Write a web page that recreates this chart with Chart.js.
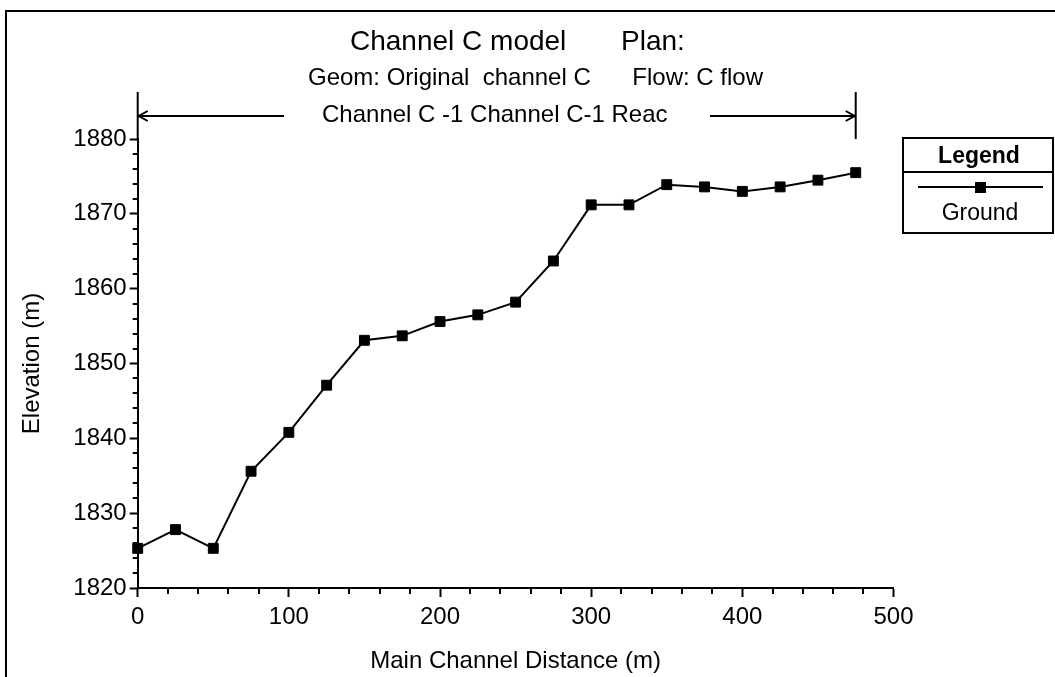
<!DOCTYPE html>
<html>
<head>
<meta charset="utf-8">
<script src="https://cdn.jsdelivr.net/npm/chart.js@4.4.1/dist/chart.umd.min.js"></script>
<style>
  body { margin: 0; background: #fff; }
  #wrap { width: 1055px; height: 677px; position: relative; }
</style>
</head>
<body>
<div id="wrap"><canvas id="profile"></canvas></div>
<script>
// Ground profile along main channel
const distance = [0, 25, 50, 75, 100, 125, 150, 175, 200, 225, 250, 275, 300, 325, 350, 375, 400, 425, 450, 475];
const elevation = [1825.3, 1827.8, 1825.3, 1835.6, 1840.8, 1847.1, 1853.1, 1853.7, 1855.6, 1856.5,
                   1858.2, 1863.7, 1871.2, 1871.2, 1873.9, 1873.6, 1873.0, 1873.6, 1874.5, 1875.5];
const xTicks = [0, 100, 200, 300, 400, 500];
const yTicks = [1820, 1830, 1840, 1850, 1860, 1870, 1880];
const reach = [0, 475];
const seriesName = 'Ground';

const FONT = 'Liberation Sans, Arial, sans-serif';

// minor ticks, reach arrow, titles, legend box, outer frame
const decor = {
    id: 'decor',
    afterDraw(chart) {
        const { ctx, scales: { x, y } } = chart;
        ctx.save();
        ctx.strokeStyle = '#000';
        ctx.fillStyle = '#000';

        // minor ticks
        ctx.lineWidth = 2;
        ctx.beginPath();
        for (let v = y.min; v <= y.max; v += 2) {
            if (v % 10 === 0) continue;
            const py = Math.round(y.getPixelForValue(v));
            ctx.moveTo(x.left - 5, py);
            ctx.lineTo(x.left, py);
        }
        for (let v = x.min; v <= x.max; v += 20) {
            if (v % 100 === 0) continue;
            const px = Math.round(x.getPixelForValue(v));
            ctx.moveTo(px, y.bottom);
            ctx.lineTo(px, y.bottom + 6);
        }
        ctx.stroke();

        // reach markers and arrows
        const r0 = x.getPixelForValue(reach[0]);
        const r1 = x.getPixelForValue(reach[1]);
        const ay = 116;
        ctx.beginPath();
        ctx.moveTo(r0, 92); ctx.lineTo(r0, y.top);
        ctx.moveTo(r1, 92); ctx.lineTo(r1, y.top);
        ctx.moveTo(r0, ay); ctx.lineTo(284, ay);
        ctx.moveTo(710, ay); ctx.lineTo(r1, ay);
        ctx.moveTo(r0 + 10, ay - 5); ctx.lineTo(r0 + 1, ay); ctx.lineTo(r0 + 10, ay + 5);
        ctx.moveTo(r1 - 10, ay - 5); ctx.lineTo(r1 - 1, ay); ctx.lineTo(r1 - 10, ay + 5);
        ctx.stroke();

        ctx.textBaseline = 'alphabetic';
        ctx.font = '24px ' + FONT;
        ctx.textAlign = 'left';
        ctx.fillText('Channel C -1 Channel C-1 Reac', 322, 122);

        // titles
        ctx.font = '28px ' + FONT;
        ctx.fillText('Channel C model', 350, 50);
        ctx.fillText('Plan:', 621, 50);
        ctx.font = '24px ' + FONT;
        ctx.fillText('Geom: Original  channel C', 308, 85);
        ctx.textAlign = 'right';
        ctx.fillText('Flow: C flow', 763, 85);

        // legend box
        ctx.lineWidth = 2;
        ctx.strokeRect(903, 138, 150, 95);
        ctx.beginPath();
        ctx.moveTo(903, 172); ctx.lineTo(1053, 172);
        ctx.moveTo(918, 187); ctx.lineTo(1043, 187);
        ctx.stroke();
        ctx.fillRect(975, 182, 11, 11);
        ctx.textAlign = 'center';
        ctx.font = 'bold 23px ' + FONT;
        ctx.fillText('Legend', 979, 163);
        ctx.font = '23px ' + FONT;
        ctx.fillText(seriesName, 980, 220);

        // outer frame (open at right and bottom)
        ctx.beginPath();
        ctx.moveTo(1055, 11); ctx.lineTo(6, 11); ctx.lineTo(6, 677);
        ctx.stroke();
        ctx.restore();
    }
};

const axisCommon = {
    type: 'linear',
    grid: { display: true, drawOnChartArea: false, drawTicks: true, tickWidth: 2, tickColor: '#000' },
    border: { display: true, color: '#000', width: 2 },
    title: { display: true, color: '#000', font: { family: FONT, size: 24 } }
};

new Chart(document.getElementById('profile'), {
    type: 'scatter',
    data: {
        datasets: [{
            label: seriesName,
            data: distance.map((d, i) => ({ x: d, y: elevation[i] })),
            showLine: true,
            borderColor: '#000',
            borderWidth: 2,
            pointStyle: 'rect',
            pointRadius: 7,
            pointBorderWidth: 1,
            pointBackgroundColor: '#000',
            pointBorderColor: '#000',
            clip: false
        }]
    },
    options: {
        responsive: true,
        maintainAspectRatio: false,
        animation: false,
        layout: { padding: { left: 0, top: 139, right: 161.5, bottom: 0 } },
        plugins: { legend: { display: false }, tooltip: { enabled: false } },
        scales: {
            x: {
                ...axisCommon,
                min: 0, max: 500,
                afterBuildTicks: (s) => { s.ticks = xTicks.map(v => ({ value: v })); },
                afterFit: (s) => { s.height = 89; },
                grid: { ...axisCommon.grid, tickLength: 9 },
                ticks: { color: '#000', padding: 6, maxRotation: 0, font: { family: FONT, size: 24 },
                         callback: (v) => String(v) },
                title: { ...axisCommon.title, text: 'Main Channel Distance (m)', padding: { bottom: 1 } }
            },
            y: {
                ...axisCommon,
                min: 1820, max: 1880,
                afterBuildTicks: (s) => { s.ticks = yTicks.map(v => ({ value: v })); },
                afterFit: (s) => { s.width = 137.7; },
                grid: { ...axisCommon.grid, tickLength: 8 },
                ticks: { color: '#000', padding: 3, font: { family: FONT, size: 24 },
                         callback: (v) => String(v) },
                title: { ...axisCommon.title, text: 'Elevation (m)', padding: { top: 18 } }
            }
        }
    },
    plugins: [decor]
});
</script>
</body>
</html>
